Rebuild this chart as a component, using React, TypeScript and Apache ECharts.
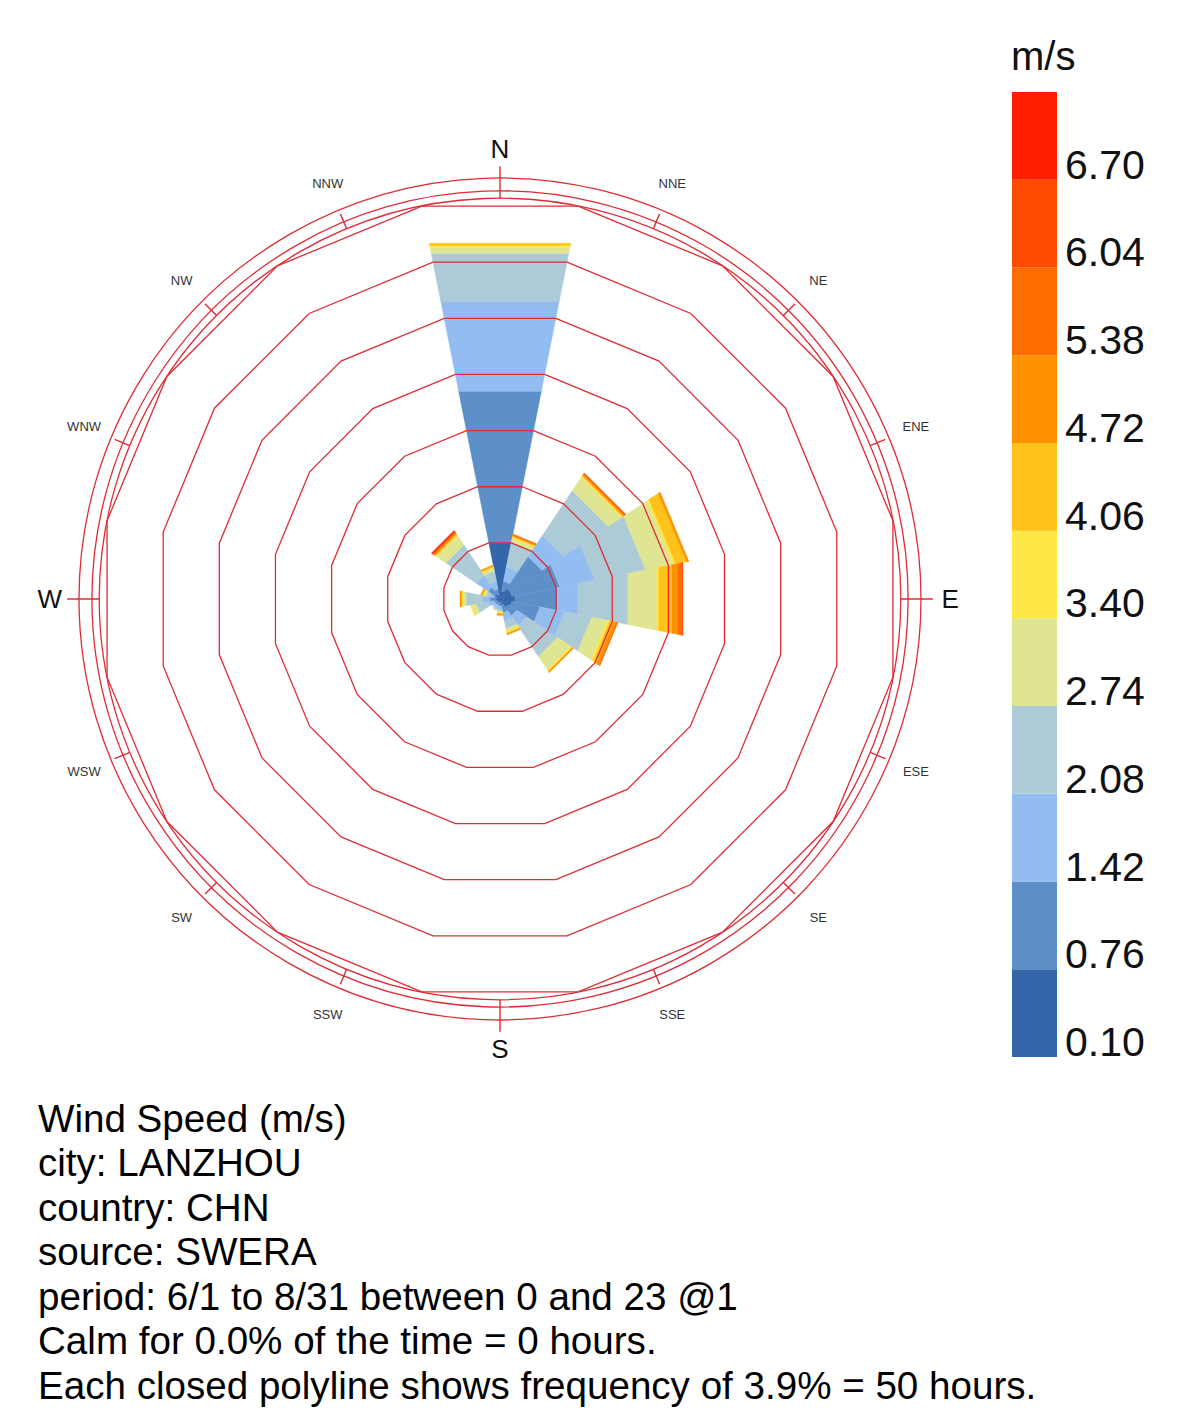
import React, { useEffect, useRef } from 'react';
import * as echarts from 'echarts';

// ---- data ----
const DIRECTIONS = ['N', 'NNE', 'NE', 'ENE', 'E', 'ESE', 'SE', 'SSE', 'S', 'SSW', 'SW', 'WSW', 'W', 'WNW', 'NW', 'NNW'];
const DIRECTION_ANGLES = DIRECTIONS.map((_, i) => i * 22.5);

const SPEED_LABELS = ['0.10', '0.76', '1.42', '2.08', '2.74', '3.40', '4.06', '4.72', '5.38', '6.04', '6.70'];
const SPEED_COLORS = ['#3466aa', '#5d8fc8', '#93bdf0', '#adcbd7', '#dfe591', '#ffe845', '#fec21a', '#ff9000', '#ff6c00', '#ff4a00', '#ff1e00'];

// hours per direction (N..NNW) for each speed bin
const HOURS_010 = [49.8, 7.1, 10.7, 10.7, 13.3, 10.7, 8.9, 5.3, 2.7, 2.7, 2.7, 2.7, 3.6, 2.7, 5.3, 3.6];
const HOURS_076 = [135.3, 8.9, 33.8, 42.7, 37.4, 24.9, 8.9, 7.1, 3.6, 2.7, 2.7, 2.7, 5.3, 2.7, 7.1, 5.3];
const HOURS_142 = [80.1, 12.5, 22.2, 31.1, 18.7, 22.2, 10.7, 7.1, 2.7, 2.7, 1.8, 5.3, 6.2, 3.6, 12.5, 7.1];
const HOURS_208 = [42.7, 22.2, 47.2, 45.4, 44.5, 24.0, 32.0, 7.1, 1.8, 1.8, 1.8, 10.7, 15.1, 3.6, 32.0, 8.9];
const HOURS_274 = [5.3, 3.6, 14.2, 24.9, 25.8, 14.2, 14.2, 2.7, 0.9, 0.9, 0, 4.4, 2.7, 1.8, 9.8, 2.7];
const HOURS_340 = [1.8, 0.9, 0.9, 1.8, 1.8, 1.8, 0.9, 0.9, 0.9, 0, 0, 0.9, 0.9, 0.9, 0.9, 0.9];
const HOURS_406 = [1.8, 0.9, 0.9, 9.8, 11.6, 3.6, 0.9, 0.9, 0.9, 0, 0, 0, 0.9, 0.9, 0.9, 0.9];
const HOURS_472 = [0, 0.9, 1.3, 1.8, 5.3, 2.7, 0.9, 0.9, 0.9, 0, 0, 0, 0.9, 0.9, 0.9, 0.9];
const HOURS_538 = [0, 0.9, 0.9, 0, 3.6, 0.9, 0, 0, 0, 0, 0, 0, 0, 0, 0.9, 0];
const HOURS_604 = [0, 0, 0.4, 0, 0.9, 0, 0, 0, 0, 0, 0, 0, 0, 0, 0.9, 0];
const HOURS_670 = [0, 0, 0, 0, 0, 0, 0, 0, 0, 0, 0, 0, 0, 0, 0.9, 0];
const HOURS_BY_SPEED = [HOURS_010, HOURS_076, HOURS_142, HOURS_208, HOURS_274, HOURS_340, HOURS_406, HOURS_472, HOURS_538, HOURS_604, HOURS_670];

const RING_HOURS = [50, 100, 150, 200, 250, 300, 350];
const FRAME_CIRCLES = [357, 363.5, 375];
const RADIUS_MAX = 375;

const INFO_LINES = [
  'Wind Speed (m/s)',
  'city: LANZHOU',
  'country: CHN',
  'source: SWERA',
  'period: 6/1 to 8/31 between 0 and 23 @1',
  'Calm for 0.0% of the time = 0 hours.',
  'Each closed polyline shows frequency of 3.9% = 50 hours.',
];

const HALF = 11.25;
const K = 1 / Math.cos((HALF * Math.PI) / 180);
const RED = '#de2c36';
const FONT = "'Liberation Sans', Arial, Helvetica, sans-serif";

function buildPetals() {
  const out: number[][] = [];
  DIRECTIONS.forEach((_, d) => {
    let acc = 0;
    HOURS_BY_SPEED.forEach((arr, b) => {
      const v = arr[d];
      if (v > 0) {
        out.push([DIRECTION_ANGLES[d], acc, acc + v, b]);
        acc += v;
      }
    });
  });
  return out;
}

export default function App() {
  const ref = useRef<HTMLDivElement>(null);
  useEffect(() => {
    document.body.style.margin = '0';
    const chart = echarts.init(ref.current!, null, { renderer: 'svg' });
    const option: any = {
      animation: false,
      backgroundColor: '#ffffff',
      title: [
        {
          text: 'm/s',
          left: 1011,
          top: 36,
          padding: 0,
          textStyle: { fontSize: 40, fontWeight: 'normal', color: '#111', fontFamily: FONT },
        },
        {
          text: INFO_LINES.join('\n'),
          left: 38,
          top: 1096,
          padding: 0,
          textStyle: { fontSize: 38.6, lineHeight: 44.5, fontWeight: 'normal', color: '#000', fontFamily: FONT },
        },
      ],
      polar: { center: [500, 599], radius: 421 },
      angleAxis: { type: 'value', min: 0, max: 360, interval: 22.5, startAngle: 90, clockwise: true, show: false },
      radiusAxis: { type: 'value', min: 0, max: RADIUS_MAX, show: false },
      grid: { left: 1012, top: 92, width: 45, height: 965 },
      xAxis: { type: 'category', data: [''], show: false },
      yAxis: {
        type: 'value',
        min: 0,
        max: SPEED_LABELS.length,
        interval: 1,
        position: 'right',
        axisLine: { show: false },
        axisTick: { show: false },
        splitLine: { show: false },
        axisLabel: {
          formatter: (v: number) => SPEED_LABELS[Math.round(v)] ?? '',
          fontSize: 41,
          lineHeight: 30,
          verticalAlign: 'bottom',
          color: '#111',
          margin: 8,
          fontFamily: FONT,
        },
      },
      series: [
        ...SPEED_LABELS.map((_, i) => ({
          type: 'bar',
          stack: 'legend',
          data: [1],
          barWidth: '100%',
          silent: true,
          itemStyle: { color: SPEED_COLORS[i] },
        })),
        {
          type: 'custom',
          coordinateSystem: 'polar',
          silent: true,
          clip: false,
          data: buildPetals(),
          renderItem: (_p: any, api: any) => {
            const a = api.value(0);
            const r0 = api.value(1) * K;
            const r1 = api.value(2) * K;
            const b = api.value(3);
            const pts = [
              api.coord([r0, a - HALF]),
              api.coord([r0, a + HALF]),
              api.coord([r1, a + HALF]),
              api.coord([r1, a - HALF]),
            ];
            return {
              type: 'polygon',
              shape: { points: pts },
              style: { fill: SPEED_COLORS[b], stroke: SPEED_COLORS[b], lineWidth: 0.5 },
            };
          },
        },
        {
          type: 'custom',
          coordinateSystem: 'polar',
          silent: true,
          clip: false,
          z: 5,
          data: RING_HOURS.map((h) => [0, h]),
          renderItem: (_p: any, api: any) => {
            const h = api.value(1) * K;
            const pts = DIRECTION_ANGLES.map((a) => api.coord([h, a + HALF]));
            return {
              type: 'polygon',
              shape: { points: pts },
              style: { fill: 'none', stroke: RED, lineWidth: 1.3 },
            };
          },
        },
        {
          type: 'custom',
          coordinateSystem: 'polar',
          silent: true,
          clip: false,
          z: 5,
          data: FRAME_CIRCLES.map((h) => [0, h]),
          renderItem: (_p: any, api: any) => {
            const h = api.value(1);
            const c = api.coord([0, 0]);
            const e = api.coord([h, 0]);
            const r = Math.hypot(e[0] - c[0], e[1] - c[1]);
            return {
              type: 'circle',
              shape: { cx: c[0], cy: c[1], r },
              style: { fill: 'none', stroke: RED, lineWidth: 1.3 },
            };
          },
        },
        {
          type: 'custom',
          coordinateSystem: 'polar',
          silent: true,
          clip: false,
          z: 5,
          data: DIRECTION_ANGLES.map((a, i) => [a, i % 4 === 0 ? 385.5 : 371.5]),
          renderItem: (_p: any, api: any) => {
            const a = api.value(0);
            const p0 = api.coord([357, a]);
            const p1 = api.coord([api.value(1), a]);
            return {
              type: 'line',
              shape: { x1: p0[0], y1: p0[1], x2: p1[0], y2: p1[1] },
              style: { stroke: RED, lineWidth: 1.4 },
            };
          },
        },
        {
          type: 'custom',
          coordinateSystem: 'polar',
          silent: true,
          clip: false,
          z: 6,
          data: DIRECTION_ANGLES.map((a, i) => [a, 401, i]),
          renderItem: (_p: any, api: any) => {
            const a = api.value(0);
            const i = api.value(2);
            const p = api.coord([api.value(1), a]);
            const major = i % 4 === 0;
            return {
              type: 'text',
              x: p[0],
              y: p[1],
              style: {
                text: DIRECTIONS[i],
                fontSize: major ? 26 : 13,
                fontFamily: FONT,
                fill: major ? '#111' : '#333',
                align: 'center',
                verticalAlign: 'middle',
              },
            };
          },
        },
      ],
    };
    chart.setOption(option);
    return () => chart.dispose();
  }, []);
  return (
    <div
      ref={ref}
      style={{ position: 'absolute', left: 0, top: 0, width: 1179, height: 1426, background: '#fff' }}
    />
  );
}
